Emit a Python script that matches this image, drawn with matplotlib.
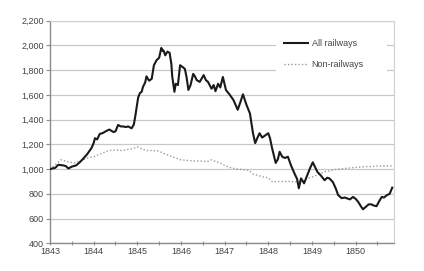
import matplotlib
matplotlib.use("Agg")
import matplotlib.pyplot as plt
from matplotlib.ticker import FixedLocator
from matplotlib.patches import Rectangle

plt.rcParams['font.family'] = ['Liberation Sans', 'DejaVu Sans']

rail_x = [1843.00, 1843.05, 1843.12, 1843.19, 1843.30, 1843.36, 1843.42, 1843.50, 1843.60, 1843.68,
          1843.75, 1843.85, 1843.95, 1844.00, 1844.03, 1844.08, 1844.14, 1844.20, 1844.30, 1844.36,
          1844.45, 1844.50, 1844.56, 1844.62, 1844.67, 1844.74, 1844.79, 1844.87, 1844.92, 1844.95,
          1845.02, 1845.06, 1845.10, 1845.13, 1845.18, 1845.21, 1845.27, 1845.33, 1845.38, 1845.44,
          1845.50, 1845.55, 1845.58, 1845.60, 1845.64, 1845.69, 1845.74, 1845.78, 1845.80, 1845.85,
          1845.88, 1845.93, 1845.98, 1846.04, 1846.09, 1846.13, 1846.17, 1846.22, 1846.28, 1846.32,
          1846.36, 1846.43, 1846.52, 1846.57, 1846.62, 1846.70, 1846.75, 1846.79, 1846.85, 1846.90,
          1846.96, 1847.03, 1847.12, 1847.20, 1847.30, 1847.36, 1847.42, 1847.50, 1847.58, 1847.65,
          1847.70, 1847.76, 1847.80, 1847.86, 1847.92, 1848.00, 1848.04, 1848.08, 1848.17, 1848.22,
          1848.26, 1848.32, 1848.38, 1848.45, 1848.52, 1848.60, 1848.66, 1848.70, 1848.75, 1848.82,
          1848.91, 1848.96, 1849.02, 1849.08, 1849.13, 1849.20, 1849.29, 1849.35, 1849.40, 1849.48,
          1849.55, 1849.60, 1849.65, 1849.68, 1849.75, 1849.79, 1849.87, 1849.94, 1850.00, 1850.06,
          1850.12, 1850.17, 1850.22, 1850.30, 1850.36, 1850.42, 1850.48, 1850.54, 1850.60, 1850.65,
          1850.72, 1850.78, 1850.84]
rail_y = [1000, 1005, 1010, 1035, 1030, 1025, 1005, 1020, 1030, 1055,
          1080, 1120, 1170, 1210, 1250, 1240, 1285, 1290, 1310, 1320,
          1300, 1305, 1357, 1345, 1345, 1340, 1345, 1330, 1360, 1420,
          1580, 1615, 1625, 1665, 1700, 1750, 1715, 1730, 1840, 1880,
          1900, 1980, 1955, 1960, 1920, 1950, 1940, 1850, 1750, 1625,
          1690, 1680, 1840, 1825, 1810, 1740, 1640, 1680, 1770, 1750,
          1720, 1705, 1760, 1720, 1705, 1650, 1680, 1630, 1690, 1660,
          1745, 1640, 1600, 1560, 1480, 1540, 1605, 1520, 1450, 1290,
          1210, 1260, 1290, 1255, 1270, 1290, 1250, 1180, 1050, 1080,
          1140, 1100, 1090, 1100, 1030, 965, 920, 845, 925, 885,
          965, 1010, 1055, 1010, 975, 950, 910, 930, 925, 895,
          840, 790, 775, 765, 770, 765, 755, 775, 760, 735,
          700, 675, 690, 715, 715, 705, 700, 740, 775, 770,
          790, 800, 850]

nonrail_x = [1843.00, 1843.10, 1843.25, 1843.40, 1843.55, 1843.70, 1843.85, 1844.00, 1844.20, 1844.35,
             1844.50, 1844.65, 1844.80, 1844.90, 1845.00, 1845.10, 1845.20, 1845.35, 1845.50, 1845.65,
             1845.80, 1846.00, 1846.15, 1846.30, 1846.45, 1846.60, 1846.70, 1846.80, 1846.90, 1847.00,
             1847.15, 1847.30, 1847.45, 1847.55, 1847.65, 1847.75, 1847.90, 1848.00, 1848.10, 1848.20,
             1848.35, 1848.50, 1848.60, 1848.70, 1848.80, 1848.90, 1849.00, 1849.10, 1849.20, 1849.30,
             1849.40, 1849.50, 1849.60, 1849.75, 1849.90, 1850.05, 1850.20, 1850.35, 1850.50, 1850.65,
             1850.85]
nonrail_y = [1000, 1030, 1075, 1060, 1050, 1065, 1090, 1100, 1130, 1150,
             1155, 1150, 1160, 1165, 1180, 1165, 1150, 1150, 1145, 1120,
             1100, 1075, 1070, 1065, 1065, 1060, 1075, 1060, 1050, 1030,
             1010, 1000, 995, 990, 960, 950, 935, 930, 895, 900,
             900, 900, 895, 900, 910, 925, 935, 950, 965, 980,
             985, 995, 1000, 1005, 1010, 1015, 1020, 1020, 1025, 1025,
             1025]

year_ticks = [1843, 1844, 1845, 1846, 1847, 1848, 1849, 1850]
y_ticks = [400, 600, 800, 1000, 1200, 1400, 1600, 1800, 2000, 2200]
series_labels = ["All railways", "Non-railways"]

fig = plt.figure(figsize=(4.24, 2.71), dpi=100)
ax = fig.add_axes([50/424, 1 - 243.3/271, 344/424, 222.6/271])

ax.plot(rail_x, rail_y, color='#1a1a1a', lw=1.5, label=series_labels[0], zorder=3)
ax.plot(nonrail_x, nonrail_y, color='#9a9a9a', lw=1.0, ls=(0, (1, 1.5)), label=series_labels[1], zorder=2)

ax.set_xlim(1843, 1850.88)
ax.set_ylim(400, 2200)
ax.set_yticks(y_ticks)
ax.set_yticklabels([f"{v:,}" for v in y_ticks])
ax.set_xticks(year_ticks)
ax.set_xticklabels([str(y) for y in year_ticks])
ax.xaxis.set_minor_locator(FixedLocator([y + 0.5 for y in year_ticks]))

ax.grid(axis='y', color='#c8c8c8', lw=0.9)
ax.set_axisbelow(True)

# white background panel behind the legend (hides gridlines as in the reference)
ax.add_patch(Rectangle((0.657, 0.733), 0.323, 0.216, transform=ax.transAxes,
                       facecolor='white', edgecolor='none', zorder=1))

for side in ['top', 'right']:
    ax.spines[side].set_color('#d0d0d0')
    ax.spines[side].set_linewidth(0.8)
for side in ['left', 'bottom']:
    ax.spines[side].set_color('#8c8c8c')
    ax.spines[side].set_linewidth(1.0)

ax.tick_params(axis='y', which='major', direction='out', length=3, width=0.8,
               color='#8c8c8c', labelsize=6.5, labelcolor='#444444', pad=1.5)
ax.tick_params(axis='x', which='both', direction='inout', length=3, width=0.8,
               color='#8c8c8c', labelsize=6.5, labelcolor='#444444', pad=1)

leg = ax.legend(loc='upper left', bbox_to_anchor=(0.657, 0.955), frameon=False,
                fontsize=6.5, handlelength=2.6, handletextpad=0.45, labelspacing=1.35,
                borderpad=0.9, borderaxespad=0)
for t in leg.get_texts():
    t.set_color('#444444')

fig.savefig('out.png', dpi=100)
